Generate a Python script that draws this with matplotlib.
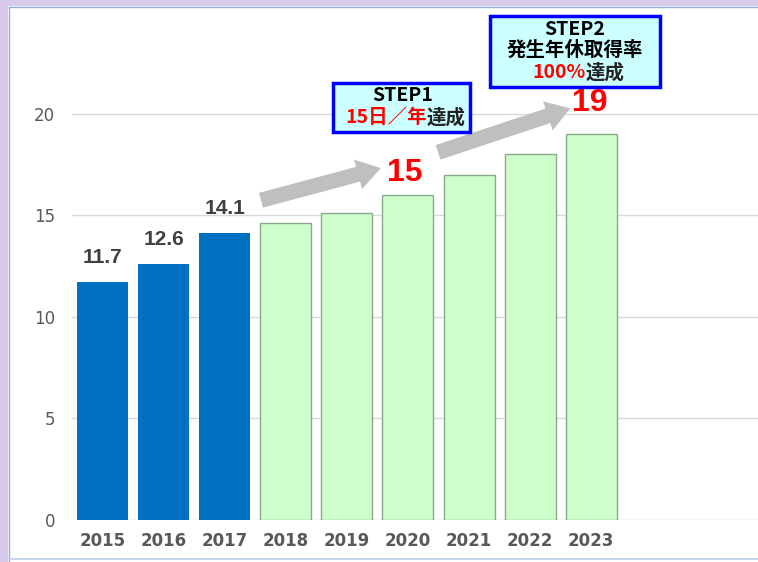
import matplotlib.pyplot as plt
from matplotlib.patches import Rectangle

plt.rcParams['font.family'] = ['DejaVu Sans', 'Noto Sans CJK JP']

years = ['2015', '2016', '2017', '2018', '2019', '2020', '2021', '2022', '2023']
actual = [11.7, 12.6, 14.1]
target = [14.6, 15.1, 16.0, 17.0, 18.0, 19.0]

fig = plt.figure(figsize=(7.58, 5.62), dpi=100)
ax = fig.add_axes([72 / 758, 42 / 562, 1 - 72 / 758, 508 / 562])

# slide frame
fig.patches.append(Rectangle((0, 0), 8 / 758, 1, transform=fig.transFigure,
                             facecolor='#D8C9EA', edgecolor='none', zorder=0))
fig.patches.append(Rectangle((0, 1 - 6 / 562), 1, 6 / 562, transform=fig.transFigure,
                             facecolor='#D8C9EA', edgecolor='none', zorder=0))
fig.add_artist(plt.Line2D([9 / 758, 9 / 758], [0, 1 - 7 / 562], transform=fig.transFigure,
                          color='#8FAADC', lw=1))
fig.add_artist(plt.Line2D([9 / 758, 1], [1 - 7 / 562, 1 - 7 / 562], transform=fig.transFigure,
                          color='#8FAADC', lw=1))
fig.add_artist(plt.Line2D([9 / 758, 1], [3 / 562, 3 / 562], transform=fig.transFigure,
                          color='#C9D7EE', lw=1.5))

x_act = list(range(len(actual)))
x_tgt = list(range(len(actual), len(years)))
w = 0.835
ax.bar(x_act, actual, width=w, color='#0070C0', zorder=3)
ax.bar(x_tgt, target, width=w, color='#CCFFCC', edgecolor='#8AA88A', linewidth=1, zorder=3)

for x, v in zip(x_act, actual):
    ax.annotate(f'{v:.1f}', (x, v), xytext=(0, 11), textcoords='offset points',
                ha='center', va='bottom', fontsize=15, fontweight='bold', color='#404040',
                family='Liberation Sans')

ax.set_xlim(-0.5, 10.73)
ax.set_ylim(0, 25)
ax.set_yticks([0, 5, 10, 15, 20])
ax.set_xticks(range(len(years)))
ax.set_xticklabels(years, fontsize=12, fontweight='bold', color='#595959')
ax.tick_params(axis='y', labelsize=12, labelcolor='#595959', length=0, pad=12)
ax.tick_params(axis='x', length=0, pad=9)
ax.grid(axis='y', color='#D9D9D9', lw=1, zorder=0)
for s in ax.spines.values():
    s.set_visible(False)

# arrows
arrow = dict(arrowstyle='simple,head_length=0.85,head_width=1.1,tail_width=0.55',
             color='#BFBFBF', lw=0, mutation_scale=20)
ax.annotate('', xy=(4.6, 17.35), xytext=(2.55, 15.7), arrowprops=arrow, zorder=4)
ax.annotate('', xy=(7.7, 20.3), xytext=(5.45, 18.05), arrowprops=arrow, zorder=4)

ax.text(4.95, 17.1, '15', color='#FF0000', fontsize=23, fontweight='bold',
        family='Liberation Sans', ha='center', va='center', zorder=5)
ax.text(7.98, 20.5, '19', color='#FF0000', fontsize=23, fontweight='bold',
        family='Liberation Sans', ha='center', va='center', zorder=5)

jp = ['Noto Sans CJK JP', 'DejaVu Sans']

# STEP1 box
ax.add_patch(Rectangle((3.78, 19.1), 2.24, 2.4, facecolor='#CCFFFF', edgecolor='#0000FF',
                       lw=2.5, zorder=6, clip_on=False))
ax.text(4.92, 20.9, 'STEP1', fontsize=14, fontweight='bold', family=jp,
        ha='center', va='center', zorder=7)
ax.text(5.31, 19.8, '15日／年', fontsize=14, fontweight='bold', family=jp, color='#FF0000',
        ha='right', va='center', zorder=7)
ax.text(5.31, 19.8, '達成', fontsize=14, fontweight='bold', family=jp, color='#222222',
        ha='left', va='center', zorder=7)

# STEP2 box
ax.add_patch(Rectangle((6.34, 21.33), 2.78, 3.45, facecolor='#CCFFFF', edgecolor='#0000FF',
                       lw=2.5, zorder=6, clip_on=False))
ax.text(7.73, 24.12, 'STEP2', fontsize=14, fontweight='bold', family=jp,
        ha='center', va='center', zorder=7)
ax.text(7.73, 23.12, '発生年休取得率', fontsize=14, fontweight='bold', family=jp,
        ha='center', va='center', zorder=7)
ax.text(7.9, 22.02, '100%', fontsize=14, fontweight='bold', family=jp, color='#FF0000',
        ha='right', va='center', zorder=7)
ax.text(7.9, 22.02, '達成', fontsize=14, fontweight='bold', family=jp, color='#222222',
        ha='left', va='center', zorder=7)

fig.savefig('out.png', dpi=100)
